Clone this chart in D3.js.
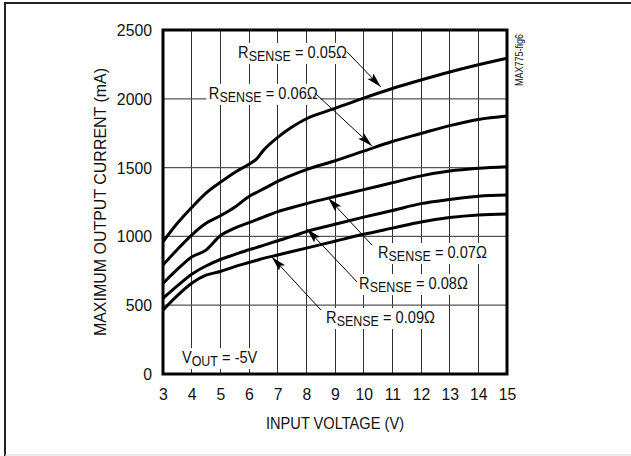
<!DOCTYPE html>
<html>
<head>
<meta charset="utf-8">
<script src="https://cdn.jsdelivr.net/npm/d3@7/dist/d3.min.js"></script>
<style>
  html, body { margin: 0; padding: 0; background: #fff; }
  svg { display: block; }
  text { font-family: 'Liberation Sans', Arial, sans-serif; fill: #111; }
</style>
</head>
<body>
<svg id="chart" width="631" height="456"></svg>
<script>
// ---- data ----
const xTicks = [3,4,5,6,7,8,9,10,11,12,13,14,15];
const yTicks = [0,500,1000,1500,2000,2500];
const volts  = [3,3.5,4,4.5,5,5.5,6,6.25,6.5,7,7.5,8,9,10,11,12,13,14,15];
const r005 = [961,1095,1210,1315,1393,1465,1525,1560,1625,1720,1795,1855,1930,2005,2075,2137,2195,2248,2295];
const r006 = [792,905,1010,1095,1150,1212,1290,1318,1345,1400,1445,1485,1550,1620,1690,1748,1805,1850,1875];
const r007 = [659,760,850,900,1005,1060,1100,1120,1140,1180,1210,1238,1290,1340,1390,1440,1475,1495,1507];
const r008 = [550,640,725,785,832,868,903,918,935,968,1000,1035,1088,1140,1188,1238,1268,1292,1300];
const r009 = [465,570,660,718,745,780,810,825,840,865,890,915,965,1015,1060,1105,1137,1156,1163];
const seriesNames = ["0.05","0.06","0.07","0.08","0.09"];
const seriesValues = [r005, r006, r007, r008, r009];
// annotation: label anchor (V, mA), arrow start and tip (V, mA)
const labelText = ["0.05Ω","0.06Ω","0.07Ω","0.08Ω","0.09Ω"];
const labelPos  = [[5.62,2297],[4.60,2000],[10.50,843],[9.84,618],[8.69,371]];
const arrowFrom = [[9.41,2343],[8.30,2042],[10.29,937],[9.77,669],[8.51,465]];
const arrowTo   = [[10.60,2086],[10.29,1657],[8.76,1279],[8.02,1054],[6.80,850]];
const voutPos = [3.66, 80];

// ---- drawing ----
const svg = d3.select("#chart");
const x = d3.scaleLinear().domain([3,15]).range([163,507]);
const y = d3.scaleLinear().domain([0,2500]).range([374,30]);
const SX = 0.86;   // horizontal condensing of text
const SXN = 0.93;  // condensing of numbers

function condense(sel, s) {
  sel.each(function() {
    const t = d3.select(this);
    const tx = +(t.attr("x") || 0);
    t.attr("transform", `translate(${tx},0) scale(${s},1) translate(${-tx},0)`);
  });
}

// outer frame
svg.append("line").attr("x1",4).attr("x2",631).attr("y1",3).attr("y2",3).attr("stroke","#222").attr("stroke-width",2);
svg.append("line").attr("x1",5).attr("x2",5).attr("y1",2).attr("y2",456).attr("stroke","#222").attr("stroke-width",2);
svg.append("line").attr("x1",5).attr("x2",631).attr("y1",455).attr("y2",455).attr("stroke","#ddd").attr("stroke-width",1);

// grid
const grid = svg.append("g");
grid.selectAll(".vg").data(xTicks.slice(1,-1)).join("line")
  .attr("x1",d=>x(d)).attr("x2",d=>x(d)).attr("y1",y(0)).attr("y2",y(2500))
  .attr("stroke","#333").attr("stroke-width",1).attr("shape-rendering","crispEdges");
grid.selectAll(".hg").data(yTicks.slice(1,-1)).join("line")
  .attr("x1",x(3)).attr("x2",x(15)).attr("y1",d=>y(d)).attr("y2",d=>y(d))
  .attr("stroke","#555").attr("stroke-width",1.2);

// label backgrounds + labels
const ann = svg.append("g");
function subLabel(main, sub, rest, px, py) {
  const g = ann.append("g").attr("transform", `translate(${px},${py}) scale(${SX},1)`);
  const t = g.append("text").attr("x",0).attr("y",0).attr("font-size",17);
  t.append("tspan").text(main);
  t.append("tspan").attr("font-size",14.5).attr("dy",3).text(sub);
  t.append("tspan").attr("dy",-3).text(rest);
  let w = t.node().getComputedTextLength();
  if (!w) w = (main.length + sub.length + rest.length) * 8;
  g.insert("rect","text").attr("x",-3).attr("y",-15).attr("width",w+6).attr("height",21).attr("fill","#fff");
  return g;
}
labelText.forEach((txt,i)=>{
  subLabel("R","SENSE"," = " + txt, x(labelPos[i][0]), y(labelPos[i][1]));
});
subLabel("V","OUT"," = -5V", x(voutPos[0]), y(voutPos[1]));

// curves
const line = d3.line().x((d,i)=>x(volts[i])).y(d=>y(d)).curve(d3.curveMonotoneX);
svg.append("g").selectAll("path").data(seriesValues).join("path")
  .attr("d", d=>line(d)).attr("fill","none").attr("stroke","#000").attr("stroke-width",3)
  .attr("stroke-linejoin","round");

// arrows
svg.append("defs").append("marker").attr("id","ah").attr("markerUnits","userSpaceOnUse")
  .attr("markerWidth",16).attr("markerHeight",10).attr("refX",15).attr("refY",4)
  .attr("orient","auto").append("path").attr("d","M0,0 L15,4 L0,8 L3,4 Z").attr("fill","#000");
svg.append("g").selectAll("line").data(arrowFrom).join("line")
  .attr("x1",d=>x(d[0])).attr("y1",d=>y(d[1]))
  .attr("x2",(d,i)=>x(arrowTo[i][0])).attr("y2",(d,i)=>y(arrowTo[i][1]))
  .attr("stroke","#000").attr("stroke-width",1).attr("marker-end","url(#ah)");

// plot frame
svg.append("rect").attr("x",x(3)).attr("y",y(2500)).attr("width",x(15)-x(3)).attr("height",y(0)-y(2500))
  .attr("fill","none").attr("stroke","#000").attr("stroke-width",3);

// axes
const ya = svg.append("g").attr("transform",`translate(${x(3)},0)`)
  .call(d3.axisLeft(y).tickValues(yTicks).tickSize(0).tickPadding(11).tickFormat(d3.format("d")));
ya.select(".domain").remove();
ya.selectAll("text").attr("font-size",17).attr("font-family",null).attr("fill","#111").call(condense, SXN);
const xa = svg.append("g").attr("transform",`translate(0,${y(0)})`)
  .call(d3.axisBottom(x).tickValues(xTicks).tickSize(0).tickPadding(14).tickFormat(d3.format("d")));
xa.select(".domain").remove();
xa.selectAll("text").attr("font-size",17).attr("font-family",null).attr("fill","#111").call(condense, SXN);

// axis titles
svg.append("text").attr("transform",`translate(${(x(3)+x(15))/2},429) scale(${SX},1)`)
  .attr("text-anchor","middle").attr("font-size",17).text("INPUT VOLTAGE (V)");
svg.append("text").attr("transform",`translate(106,${(y(0)+y(2500))/2}) rotate(-90) scale(0.94,1)`)
  .attr("text-anchor","middle").attr("font-size",17).text("MAXIMUM OUTPUT CURRENT (mA)");
svg.append("text").attr("transform",`translate(523,60) rotate(-90) scale(0.9,1)`)
  .attr("text-anchor","middle").attr("font-size",10).text("MAX775-fig6");
</script>
</body>
</html>
